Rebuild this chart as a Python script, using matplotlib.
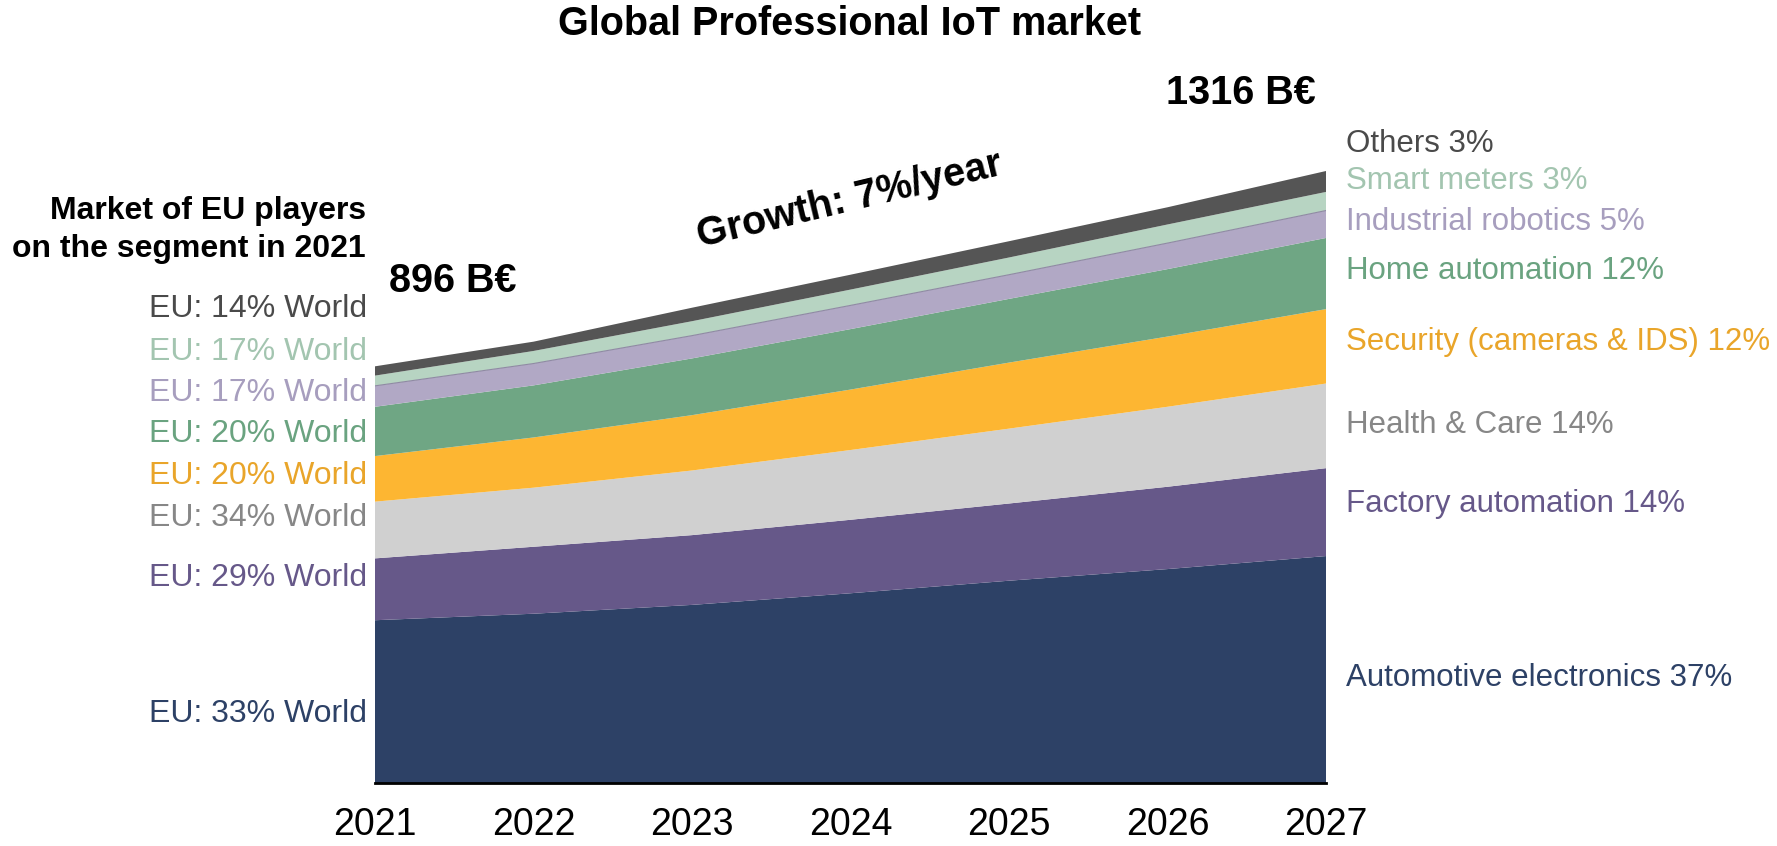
import matplotlib
matplotlib.use("Agg")
import matplotlib.pyplot as plt
import numpy as np

plt.rcParams["font.family"] = ["Liberation Sans", "DejaVu Sans"]

W, H = 1777, 846

years = [2021, 2022, 2023, 2024, 2025, 2026, 2027]

# market size by segment, B€ (bottom to top of the stack)
automotive = [350, 364, 383, 408, 435, 460, 488]
factory = [133, 144, 150, 158, 166, 177, 189]
health = [122, 127, 139, 150, 161, 172, 182]
security = [98, 108, 119, 130, 142, 151, 160]
home = [106, 112, 122, 130, 137, 145, 153]
robotics = [45, 47, 49, 51, 52, 56, 59]
smart_meters = [22, 27, 31, 34, 37, 40, 40]
others = [20, 20, 29, 32, 35, 37, 45]

segment_labels = [
    "Automotive electronics 37%",
    "Factory automation 14%",
    "Health & Care 14%",
    "Security (cameras & IDS) 12%",
    "Home automation 12%",
    "Industrial robotics 5%",
    "Smart meters 3%",
    "Others 3%",
]
eu_share_labels = [
    "EU: 33% World", "EU: 29% World", "EU: 34% World", "EU: 20% World",
    "EU: 20% World", "EU: 17% World", "EU: 17% World", "EU: 14% World",
]

fill_colors = ["#2D4166", "#665889", "#D0D0D0", "#FDB632",
               "#6FA684", "#B1A8C5", "#B7D4C2", "#555555"]
text_colors = ["#2D4166", "#665889", "#878787", "#E9A52A",
               "#6AA380", "#A79EBE", "#A3C5B0", "#4A4A4A"]

# label positions in pixels (y centre); right column and left column
right_label_y = [678, 504, 425, 342, 271, 222, 181, 144]
left_label_y = [714, 578, 518, 476, 434, 393, 352, 309]


def put(x, y, s, **kw):
    return fig.text(x / W, 1 - y / H, s, **kw)


fig = plt.figure(figsize=(W / 100, H / 100), dpi=100)
ax = fig.add_axes([375 / W, 1 - 783 / H, (1326 - 375) / W, (783 - 171) / H])

series = [automotive, factory, health, security, home, robotics, smart_meters, others]
ax.stackplot(years, *series, colors=fill_colors, linewidth=0)

# thin edge on top of the robotics band, as in the source
cum = np.cumsum(np.array(series), axis=0)
ax.plot(years, cum[5], color="#8F8AA3", lw=0.8)

ax.set_xlim(2021, 2027)
ax.set_ylim(0, 1316)
ax.set_xticks(years)
ax.set_xticklabels([str(y) for y in years])
ax.tick_params(axis="x", length=0, pad=17, labelsize=27)
ax.set_yticks([])
for side in ["left", "right", "top"]:
    ax.spines[side].set_visible(False)
ax.spines["bottom"].set_linewidth(2)
ax.spines["bottom"].set_color("black")

# titles and annotations
put(850, 24, "Global Professional IoT market", fontsize=28.5, fontweight="bold",
    ha="center", va="center")
put(1241, 93, f"{cum[-1][-1]} B€", fontsize=28.5, fontweight="bold", ha="center", va="center")
put(389, 281, f"{cum[-1][0]} B€", fontsize=28.5, fontweight="bold", ha="left", va="center")
put(850, 200, "Growth: 7%/year", fontsize=28.5, fontweight="bold", ha="center",
    va="center", rotation=13.5, rotation_mode="anchor")
put(366, 230, "Market of EU players\non the segment in 2021", fontsize=23,
    fontweight="bold", ha="right", va="center", linespacing=1.35)

for lab, y, c in zip(segment_labels, right_label_y, text_colors):
    put(1346, y, lab, fontsize=22.5, color=c, ha="left", va="center")
for lab, y, c in zip(eu_share_labels, left_label_y, text_colors):
    put(367, y, lab, fontsize=23, color=c, ha="right", va="center")

fig.savefig("out.png", dpi=100)
